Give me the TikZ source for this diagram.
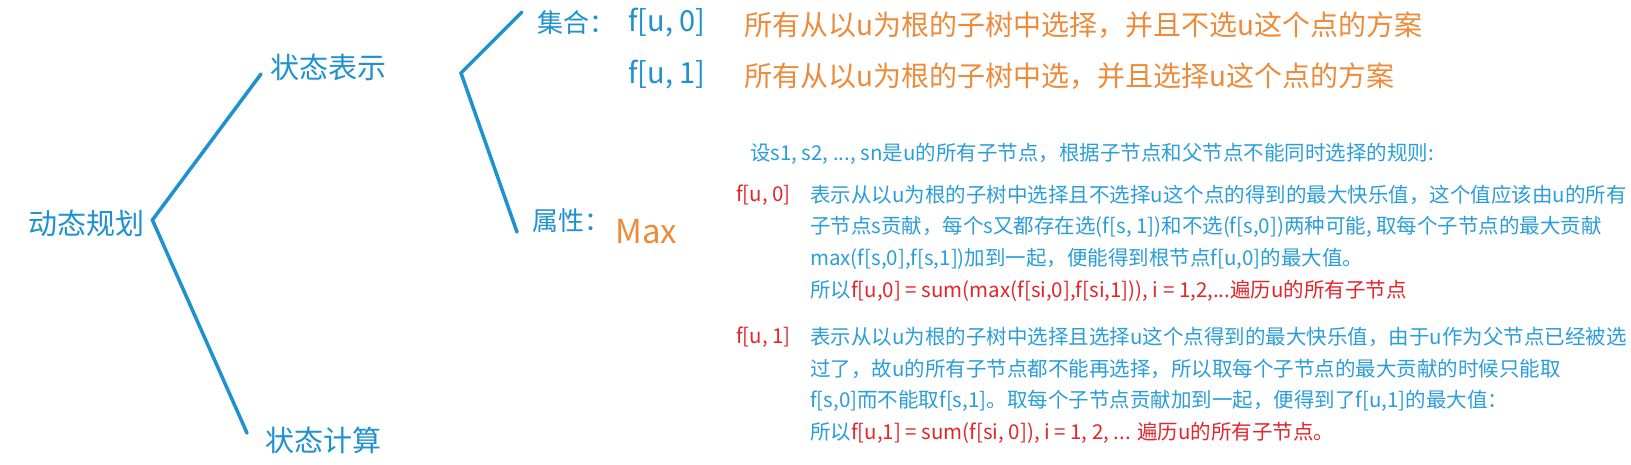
\documentclass[tikz,border=0pt]{standalone}
\usepackage{fontspec}
\setmainfont{Noto Sans CJK SC}
\definecolor{bleu}{HTML}{1E91CF}
\definecolor{bleuclair}{HTML}{2A9ED9}
\definecolor{orangeclair}{HTML}{EE8B3A}
\definecolor{rouge}{HTML}{E3262C}
\begin{document}
\begin{tikzpicture}[x=1pt,y=-1pt]
% Styles
\tikzstyle{branche}=[draw=bleu,line width=3.5pt,line cap=round]
\tikzstyle{titre}=[anchor=west,inner sep=0pt,text=bleu,font=\fontsize{29}{34}\selectfont]
\tikzstyle{rubrique}=[anchor=west,inner sep=0pt,text=bleu,font=\fontsize{26}{30}\selectfont]
\tikzstyle{etat}=[rubrique,font=\fontsize{29}{34}\selectfont]
\tikzstyle{ensemble}=[anchor=west,inner sep=0pt,text=orangeclair,font=\fontsize{28}{32}\selectfont]
\tikzstyle{ligne}=[anchor=west,inner sep=0pt,text=bleuclair,font=\fontsize{20.5}{24}\selectfont]
\tikzstyle{cas}=[ligne,text=rouge]
% Dimensions
\def\MargeCas{736}
\def\MargeTexte{810}
\def\Interligne{32}
\def\ParaA{195}
\def\ParaB{337}
% Cadre
\useasboundingbox[fill=white] (0,0) rectangle (1631,464);
% Noeuds
\node[titre] (DP) at (28,223) {动态规划};
\node[titre] (Rep) at (270,67) {状态表示};
\node[titre] (Calc) at (265,440) {状态计算};
\node[rubrique] (Ens) at (537,23) {集合：};
\node[etat] (Fa) at (628,23) {f[u, 0]};
\node[etat] (Fb) at (628,75) {f[u, 1]};
\node[ensemble] (Ea) at (744,25) {所有从以u为根的子树中选择，并且不选u这个点的方案};
\node[ensemble] (Eb) at (744,76) {所有从以u为根的子树中选，并且选择u这个点的方案};
\node[rubrique] (Attr) at (532,221) {属性：};
\node[anchor=west,inner sep=0pt,text=orangeclair,font=\fontsize{33}{38}\selectfont] (Max) at (615,232) {Max};
\coordinate (S) at (461,73);
% Calcul
\node[ligne] (Ent) at (750,154) {设s1, s2, ..., sn是u的所有子节点，根据子节点和父节点不能同时选择的规则:};
\node[cas] (Ca) at (\MargeCas,{\ParaA}) {f[u, 0]};
\node[ligne] (Ta) at (\MargeTexte,{\ParaA}) {表示从以u为根的子树中选择且不选择u这个点的得到的最大快乐值，这个值应该由u的所有};
\node[ligne] (Tb) at (\MargeTexte,{\ParaA+\Interligne}) {子节点s贡献，每个s又都存在选(f[s, 1])和不选(f[s,0])两种可能, 取每个子节点的最大贡献};
\node[ligne] (Tc) at (\MargeTexte,{\ParaA+2*\Interligne}) {max(f[s,0],f[s,1])加到一起，便能得到根节点f[u,0]的最大值。};
\node[ligne] (Td) at (\MargeTexte,{\ParaA+3*\Interligne}) {所以\textcolor{rouge}{f[u,0] = sum(max(f[si,0],f[si,1])), i = 1,2,...遍历u的所有子节点}};
\node[cas] (Cb) at (\MargeCas,{\ParaB}) {f[u, 1]};
\node[ligne] (Te) at (\MargeTexte,{\ParaB}) {表示从以u为根的子树中选择且选择u这个点得到的最大快乐值，由于u作为父节点已经被选};
\node[ligne] (Tf) at (\MargeTexte,{\ParaB+\Interligne}) {过了，故u的所有子节点都不能再选择，所以取每个子节点的最大贡献的时候只能取};
\node[ligne] (Tg) at (\MargeTexte,{\ParaB+2*\Interligne}) {f[s,0]而不能取f[s,1]。取每个子节点贡献加到一起，便得到了f[u,1]的最大值：};
\node[ligne] (Th) at (\MargeTexte,{\ParaB+3*\Interligne}) {所以\textcolor{rouge}{f[u,1] = sum(f[si, 0]), i = 1, 2, ... 遍历u的所有子节点。}};
% Branches
\draw[branche] ([shift={(-9,7)}]Rep.west) -- ([shift={(8,-3)}]DP.east) -- ([shift={(-18,-7)}]Calc.west);
\draw[branche] ([shift={(-15,-11)}]Ens.west) -- (S) -- ([shift={(-15,11)}]Attr.west);
\end{tikzpicture}
\end{document}
